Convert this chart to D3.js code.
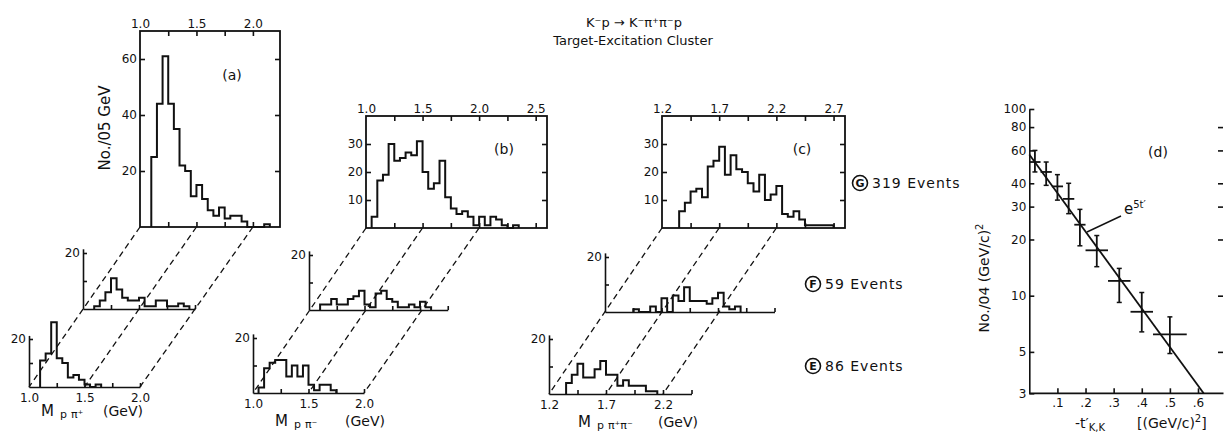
<!DOCTYPE html>
<html>
<head>
<meta charset="utf-8">
<script src="https://cdn.jsdelivr.net/npm/d3@7"></script>
<style>
  body { margin: 0; background: #fff; }
  svg text { font-family: "DejaVu Sans", sans-serif; fill: #111; }
</style>
</head>
<body>
<script>
// ---- values ----
const binW = 0.05;

// counts per .05 GeV bin, sets G (top), F (middle), E (bottom)
const ppipG = [25, 44, 61, 44, 35, 22, 20, 11, 15, 10, 6, 4, 7, 3, 4, 4, 2, 0, 0, 0, 1];
const ppipF = [1, 3, 6, 11, 7, 4, 3, 3, 4, 1, 1, 3, 3, 1, 1, 2, 1];
const ppipE = [11, 14, 27, 12, 10, 4, 5, 3, 1, 0, 1];

const ppimG = [4, 17, 19, 30, 24, 25, 27, 26, 31, 20, 14, 16, 24, 11, 7, 5, 6, 4, 1, 4, 1, 4, 3, 1, 0, 1];
const ppimF = [2, 2, 4, 2, 2, 4, 5, 7, 2, 1, 6, 7, 4, 3, 1, 1, 2, 1, 3, 1];
const ppimE = [2, 9, 11, 12, 12, 6, 10, 6, 10, 3, 1, 3, 3, 1];

const pppG = [6, 9, 13, 14, 11, 22, 24, 29, 19, 26, 21, 20, 16, 13, 19, 10, 12, 15, 5, 4, 6, 3, 1, 1, 1, 1, 1];
const pppF = [1, 0, 0, 2, 0, 5, 0, 6, 4, 9, 4, 4, 4, 3, 5, 7, 2, 1, 2];
const pppE = [4, 7, 11, 6, 6, 9, 12, 7, 7, 3, 5, 3, 3, 3, 1, 1];

// first bin low edge (GeV) for columns a, b, c
const startG = [1.10, 1.05, 1.35];
const startF = [1.10, 1.10, 1.45];
const startE = [1.10, 1.05, 1.35];

const labA = [1.0, 1.5, 2.0];
const labB = [1.0, 1.5, 2.0, 2.5];
const labC = [1.2, 1.7, 2.2, 2.7];
const yTicksA = [20, 40, 60];
const yTicksBC = [10, 20, 30];

// panel (d): t' distribution
const tVal = [0.02, 0.06, 0.10, 0.14, 0.18, 0.24, 0.32, 0.40, 0.50];
const tErr = [0.02, 0.02, 0.02, 0.02, 0.02, 0.04, 0.04, 0.04, 0.06];
const nVal = [52, 46, 38.5, 33, 24, 17.5, 12, 8.2, 6.2];
const nHi = [60, 52, 44.5, 40, 29, 21, 14, 10.4, 7.7];
const nLo = [46, 39, 32.5, 27.5, 18.5, 14.3, 9.2, 6.4, 4.9];
const fitT = [0, 0.62];
const fitN = [57, 3];
const dYTicks = [100, 80, 60, 40, 30, 20, 10, 5, 3];
const dXTicks = [0.1, 0.2, 0.3, 0.4, 0.5, 0.6];

const evLetter = ["G", "F", "E"];
const evCount = [319, 59, 86];

// ---- layout ----
const mainBox = [
  {l: 140, r: 280, t: 31, b: 227, xd: [1.0, 2.24], ymax: 70, tag: "(a)", tagX: 232, tagY: 80},
  {l: 366, r: 547, t: 116, b: 228, xd: [1.0, 2.6], ymax: 40, tag: "(b)", tagX: 504, tagY: 154},
  {l: 662, r: 845, t: 116, b: 228, xd: [1.2, 2.8], ymax: 40, tag: "(c)", tagX: 802, tagY: 154}
];
const boxF = [
  {x0: 83, v0: 1.0, v1: 2.0, ppg: 112, y0: 309, h20: 56},
  {x0: 309, v0: 1.0, v1: 2.25, ppg: 111, y0: 310, h20: 55},
  {x0: 605, v0: 1.2, v1: 2.7, ppg: 113, y0: 312, h20: 55}
];
const boxE = [
  {x0: 29, v0: 1.0, v1: 2.0, ppg: 111, y0: 387, h20: 48},
  {x0: 253, v0: 1.0, v1: 2.0, ppg: 111, y0: 393, h20: 55},
  {x0: 549, v0: 1.2, v1: 2.45, ppg: 114, y0: 394, h20: 55}
];

let svg = d3.select("body").append("svg")
    .attr("width", 1224)
    .attr("height", 433);

function histPath(vals, start, x, y) {
  let pts = [[start, 0]];
  vals.forEach((v, i) => {
    pts.push([start + i * binW, v], [start + (i + 1) * binW, v]);
  });
  pts.push([start + vals.length * binW, 0]);
  return d3.line().x(d => x(d[0])).y(d => y(d[1]))(pts);
}

function styleAxis(g, size) {
  g.attr("font-family", null);
  g.selectAll("line, path").attr("stroke", "#111").attr("stroke-width", 1.6);
  g.selectAll("text").style("font-size", size + "px");
}

function drawMain(p, vals, start, labs, yt) {
  let x = d3.scaleLinear().domain(p.xd).range([p.l, p.r]);
  let y = d3.scaleLinear().domain([0, p.ymax]).range([p.b, p.t]);
  let inner = d3.range(p.xd[0] + 0.25, p.xd[1], 0.25);
  let g = svg.append("g");

  g.append("g").attr("transform", `translate(0,${p.b})`)
    .call(d3.axisBottom(x).tickValues(inner).tickSize(-5).tickSizeOuter(0).tickFormat(""))
    .call(a => a.select(".domain").remove())
    .call(a => styleAxis(a, 12));
  g.append("g").attr("transform", `translate(0,${p.t})`)
    .call(d3.axisTop(x).tickValues(inner).tickSize(-5).tickSizeOuter(0).tickFormat(""))
    .call(a => a.select(".domain").remove())
    .call(a => styleAxis(a, 12));
  g.append("g").attr("transform", `translate(0,${p.t})`)
    .call(d3.axisTop(x).tickValues(labs).tickSize(0).tickPadding(3).tickFormat(d3.format(".1f")))
    .call(a => a.select(".domain").remove())
    .call(a => styleAxis(a, 12));
  g.append("g").attr("transform", `translate(${p.l},0)`)
    .call(d3.axisLeft(y).tickValues(yt).tickSize(-5).tickPadding(3))
    .call(a => a.select(".domain").remove())
    .call(a => styleAxis(a, 12));
  g.append("g").attr("transform", `translate(${p.r},0)`)
    .call(d3.axisRight(y).tickValues(yt).tickSize(-5).tickFormat(""))
    .call(a => a.select(".domain").remove())
    .call(a => styleAxis(a, 12));

  g.append("rect")
    .attr("x", p.l).attr("y", p.t)
    .attr("width", p.r - p.l).attr("height", p.b - p.t)
    .attr("fill", "none").attr("stroke", "#111").attr("stroke-width", 1.8);

  g.append("path")
    .attr("d", histPath(vals, start, x, y))
    .attr("fill", "none").attr("stroke", "#111").attr("stroke-width", 2);

  g.append("text").text(p.tag)
    .attr("x", p.tagX).attr("y", p.tagY)
    .attr("text-anchor", "middle")
    .style("font-size", "14px");
  return x;
}

function drawSmall(p, vals, start, labs) {
  let x = d3.scaleLinear().domain([p.v0, p.v1]).range([p.x0, p.x0 + (p.v1 - p.v0) * p.ppg]);
  let y = d3.scaleLinear().domain([0, 21.5]).range([p.y0, p.y0 - p.h20 * 21.5 / 20]);
  let g = svg.append("g");

  g.append("g").attr("transform", `translate(0,${p.y0})`)
    .call(d3.axisBottom(x).tickValues(d3.range(p.v0 + 0.25, p.v1 + 0.001, 0.25))
      .tickSize(-4).tickSizeOuter(0).tickFormat(""))
    .call(a => styleAxis(a, 12));
  if (labs) {
    g.append("g").attr("transform", `translate(0,${p.y0})`)
      .call(d3.axisBottom(x).tickValues(labs).tickSize(0).tickPadding(6).tickFormat(d3.format(".1f")))
      .call(a => a.select(".domain").remove())
      .call(a => styleAxis(a, 12));
  }
  g.append("g").attr("transform", `translate(${p.x0},0)`)
    .call(d3.axisLeft(y).tickValues([10, 20]).tickSize(-4).tickSizeOuter(0).tickPadding(3)
      .tickFormat(d => d === 20 ? "20" : ""))
    .call(a => styleAxis(a, 12));

  g.append("path")
    .attr("d", histPath(vals, start, x, y))
    .attr("fill", "none").attr("stroke", "#111").attr("stroke-width", 2);
  return x;
}

let gVals = [ppipG, ppimG, pppG];
let fVals = [ppipF, ppimF, pppF];
let eVals = [ppipE, ppimE, pppE];
let labs = [labA, labB, labC];
let yts = [yTicksA, yTicksBC, yTicksBC];

let dash = svg.append("g");

for (let i = 0; i < 3; i++) {
  let xm = drawMain(mainBox[i], gVals[i], startG[i], labs[i], yts[i]);
  drawSmall(boxF[i], fVals[i], startF[i], null);
  let xe = drawSmall(boxE[i], eVals[i], startE[i], labs[i].slice(0, 3));

  // dashed guide lines joining the same mass on the three levels
  labs[i].slice(0, 3).forEach(v => {
    dash.append("line")
      .attr("x1", xm(v)).attr("y1", mainBox[i].b)
      .attr("x2", xe(v)).attr("y2", boxE[i].y0)
      .attr("stroke", "#111").attr("stroke-width", 1.3)
      .attr("stroke-dasharray", "6,4");
  });
}

// axis titles under the bottom row
function massTitle(xM, xG, yB, subs) {
  let t = svg.append("text").attr("x", xM).attr("y", yB);
  t.append("tspan").text("M").style("font-size", "15px");
  subs.forEach((s, k) => {
    t.append("tspan").text(s)
      .attr("dx", k === 0 ? 6 : 4).attr("dy", k === 0 ? 2 : 0)
      .style("font-size", "11px");
  });
  svg.append("text").text("(GeV)")
    .attr("x", xG).attr("y", yB)
    .style("font-size", "14px");
}
massTitle(41, 103, 416, ["p", "π⁺"]);
massTitle(275, 345, 426, ["p", "π⁻"]);
massTitle(578, 658, 427, ["p", "π⁺π⁻"]);

svg.append("text").text("No./05 GeV")
  .attr("transform", "translate(110,128) rotate(-90)")
  .attr("text-anchor", "middle")
  .style("font-size", "15px");

// title
svg.append("text").text("K⁻p → K⁻π⁺π⁻p")
  .attr("x", 634).attr("y", 27)
  .attr("text-anchor", "middle")
  .style("font-size", "13px");
svg.append("text").text("Target-Excitation Cluster")
  .attr("x", 633).attr("y", 45)
  .attr("text-anchor", "middle")
  .style("font-size", "13px");

// event set labels
let evPos = [[860, 183], [813, 284], [813, 366]];
evLetter.forEach((L, i) => {
  let [cx, cy] = evPos[i];
  svg.append("circle")
    .attr("cx", cx).attr("cy", cy).attr("r", 7.5)
    .attr("fill", "none").attr("stroke", "#111").attr("stroke-width", 1.6);
  svg.append("text").text(L)
    .attr("x", cx).attr("y", cy + 4)
    .attr("text-anchor", "middle")
    .style("font-size", "11px").style("font-weight", "bold");
  svg.append("text").text(evCount[i] + " Events")
    .attr("x", cx + 12).attr("y", cy + 5)
    .style("font-size", "14px").style("letter-spacing", "1px");
});

// ---- panel (d) ----
let dx = d3.scaleLinear().domain([0, 0.6]).range([1029.3, 1198]);
let dy = d3.scaleLog().domain([3, 100]).range([393.3, 109]);
let dg = svg.append("g");

dg.append("g").attr("transform", "translate(1029.3,0)")
  .call(d3.axisLeft(dy).tickValues(dYTicks).tickSize(-5).tickSizeOuter(0).tickPadding(3)
    .tickFormat(d3.format("d")))
  .call(a => styleAxis(a, 12));
dg.append("g").attr("transform", "translate(1223,0)")
  .call(d3.axisRight(dy).tickValues(dYTicks.slice(1, 8)).tickSize(-5).tickSizeOuter(0).tickFormat(""))
  .call(a => a.select(".domain").remove())
  .call(a => styleAxis(a, 12));
dg.append("g").attr("transform", "translate(0,393.3)")
  .call(d3.axisBottom(dx).tickValues(dXTicks).tickSize(-5).tickSizeOuter(0).tickPadding(5)
    .tickFormat(d => "." + Math.round(d * 10)))
  .call(a => a.select(".domain").remove())
  .call(a => styleAxis(a, 12));
dg.append("line")
  .attr("x1", 1029.3).attr("x2", 1223.5).attr("y1", 393.3).attr("y2", 393.3)
  .attr("stroke", "#111").attr("stroke-width", 1.8);

dg.append("path")
  .attr("d", d3.line().x(d => dx(d[0])).y(d => dy(d[1]))(fitT.map((t, i) => [t, fitN[i]])))
  .attr("stroke", "#111").attr("stroke-width", 1.8).attr("fill", "none");

tVal.forEach((t, i) => {
  let px = dx(t);
  dg.append("line")
    .attr("x1", dx(Math.max(0, t - tErr[i]))).attr("x2", dx(t + tErr[i]))
    .attr("y1", dy(nVal[i])).attr("y2", dy(nVal[i]))
    .attr("stroke", "#111").attr("stroke-width", 1.8);
  dg.append("line")
    .attr("x1", px).attr("x2", px)
    .attr("y1", dy(nLo[i])).attr("y2", dy(nHi[i]))
    .attr("stroke", "#111").attr("stroke-width", 1.8);
  [nLo[i], nHi[i]].forEach(n => {
    dg.append("line")
      .attr("x1", px - 2.5).attr("x2", px + 2.5)
      .attr("y1", dy(n)).attr("y2", dy(n))
      .attr("stroke", "#111").attr("stroke-width", 1.5);
  });
});

dg.append("text").text("(d)")
  .attr("x", 1158).attr("y", 157)
  .attr("text-anchor", "middle")
  .style("font-size", "14px");

let fitLbl = dg.append("text").attr("x", 1124).attr("y", 214);
fitLbl.append("tspan").text("e").style("font-size", "15px");
fitLbl.append("tspan").text("5t′").attr("dy", -6).style("font-size", "10px");
dg.append("line")
  .attr("x1", 1121).attr("y1", 216).attr("x2", 1087).attr("y2", 232)
  .attr("stroke", "#111").attr("stroke-width", 1.4);

let dyl = dg.append("text")
  .attr("transform", "translate(989,278) rotate(-90)")
  .attr("text-anchor", "middle")
  .style("font-size", "14px");
dyl.append("tspan").text("No./04  (GeV/c)");
dyl.append("tspan").text("2").attr("dy", -6).style("font-size", "10px");

let dxl = dg.append("text").attr("x", 1075).attr("y", 428).style("font-size", "14px");
dxl.append("tspan").text("-t′");
dxl.append("tspan").text("K,K").attr("dy", 3).style("font-size", "10px");
let dxu = dg.append("text").attr("x", 1137).attr("y", 428).style("font-size", "14px");
dxu.append("tspan").text("[(GeV/c)");
dxu.append("tspan").text("2").attr("dy", -6).style("font-size", "10px");
dxu.append("tspan").text("]").attr("dy", 6);
</script>
</body>
</html>
